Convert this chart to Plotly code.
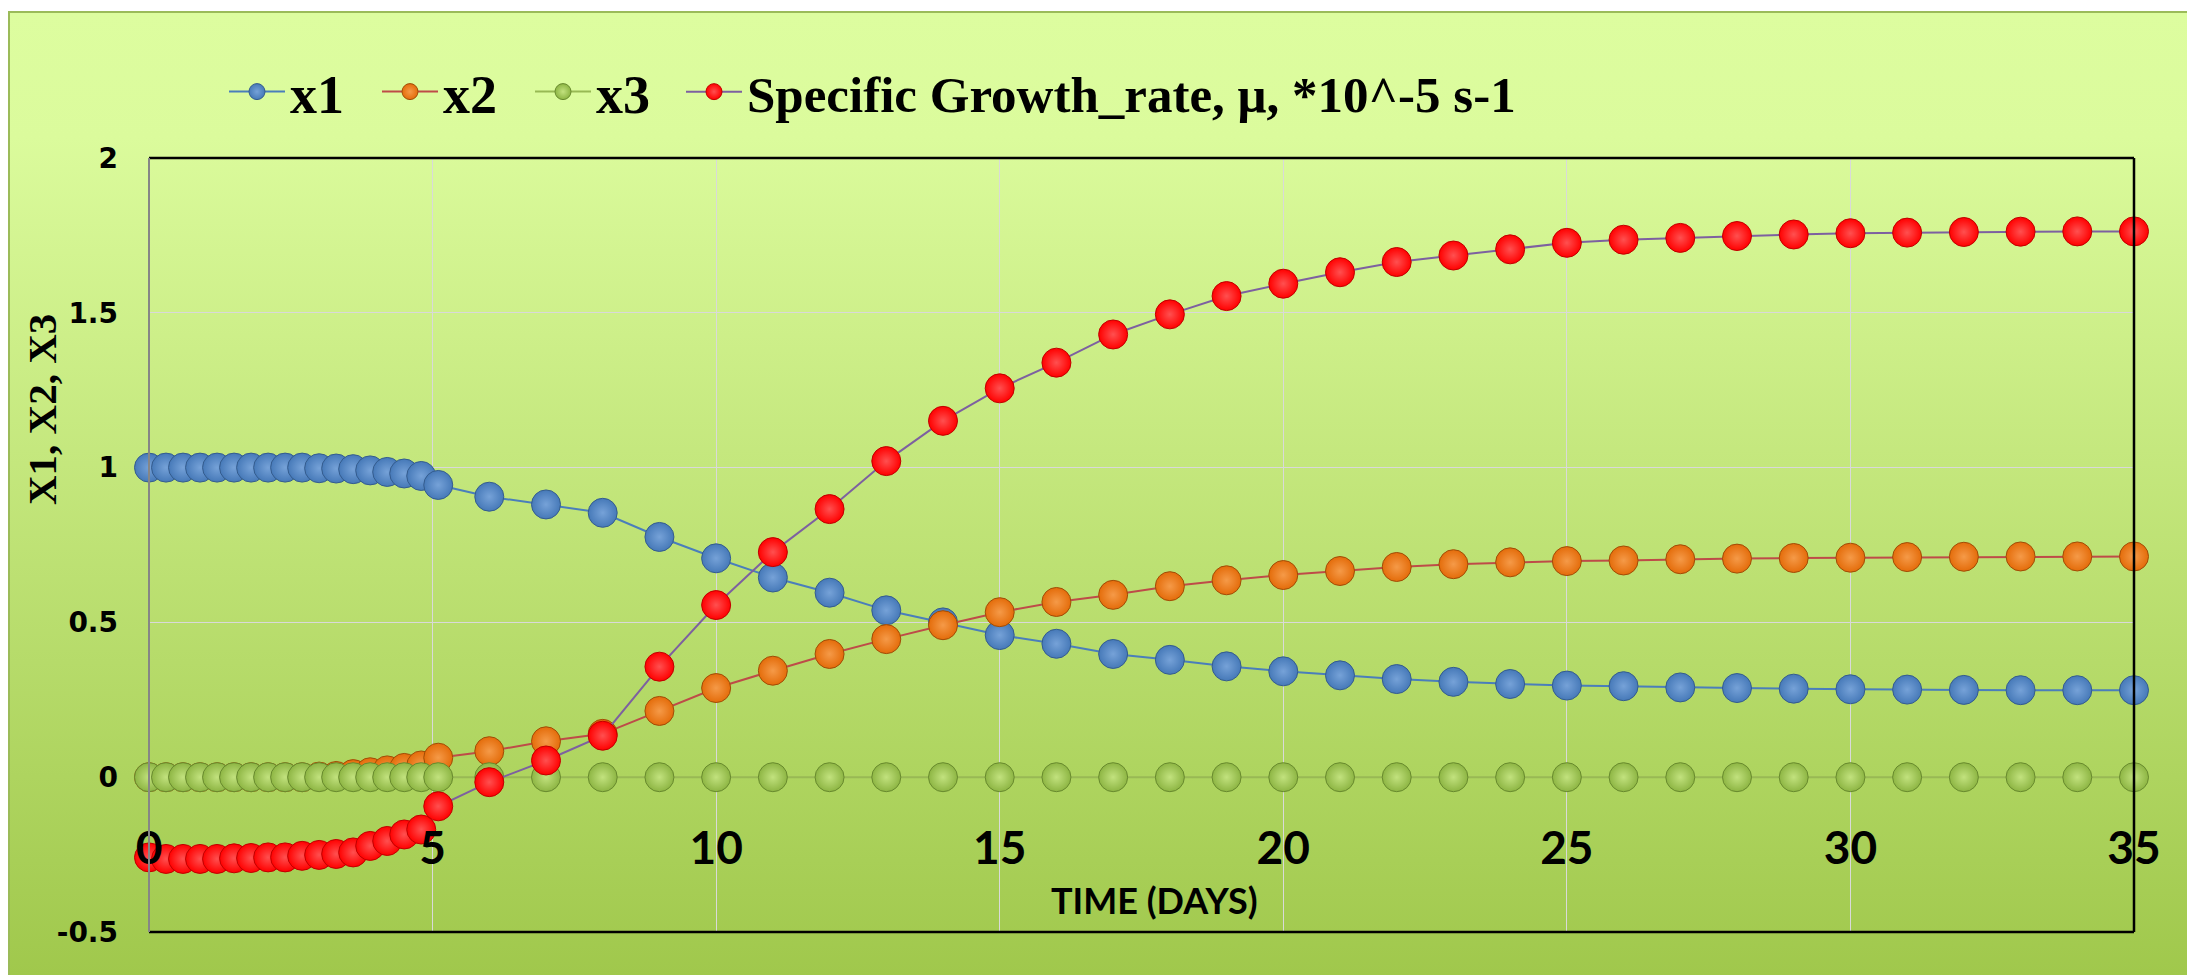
import base64
import plotly.graph_objects as go

# ---------------- data ----------------
TIME = [0.0, 0.3, 0.6, 0.9, 1.2, 1.5, 1.8, 2.1, 2.4, 2.7, 3.0, 3.3, 3.6, 3.9, 4.2, 4.5, 4.8, 5.1,
        6, 7, 8, 9, 10, 11, 12, 13, 14, 15, 16, 17, 18, 19, 20,
        21, 22, 23, 24, 25, 26, 27, 28, 29, 30, 31, 32, 33, 34, 35]

X1 = [1.0, 1.0, 1.0, 1.0, 1.0, 1.0, 1.0, 1.0, 1.0, 1.0, 0.998, 0.997, 0.995, 0.991, 0.986, 0.981, 0.973, 0.944,
      0.906, 0.881, 0.854, 0.776, 0.707, 0.645, 0.596, 0.539, 0.500, 0.459, 0.431, 0.398, 0.379, 0.358, 0.342,
      0.329, 0.317, 0.308, 0.301, 0.296, 0.294, 0.290, 0.288, 0.286, 0.284, 0.283, 0.282, 0.281, 0.281, 0.281]

X2 = [0, 0, 0, 0, 0, 0, 0, 0, 0, 0, 0.002, 0.004, 0.010, 0.016, 0.022, 0.030, 0.038, 0.063,
      0.084, 0.116, 0.140, 0.214, 0.288, 0.344, 0.398, 0.446, 0.491, 0.533, 0.566, 0.589, 0.617, 0.636, 0.653,
      0.666, 0.679, 0.688, 0.694, 0.698, 0.700, 0.704, 0.706, 0.708, 0.709, 0.711, 0.712, 0.713, 0.713, 0.713]

X3 = [0, 0, 0, 0, 0, 0, 0, 0, 0, 0, 0, 0, 0, 0, 0, 0, 0, 0,
      0, 0, 0, 0, 0, 0, 0, 0, 0, 0, 0, 0, 0, 0, 0,
      0, 0, 0, 0, 0, 0, 0, 0, 0, 0, 0, 0, 0, 0, 0]

MU = [-0.259, -0.264, -0.264, -0.264, -0.264, -0.262, -0.261, -0.259, -0.259, -0.254, -0.251, -0.248, -0.243,
      -0.222, -0.206, -0.185, -0.169, -0.094,
      -0.016, 0.054, 0.134, 0.357, 0.556, 0.727, 0.866, 1.021, 1.151, 1.256, 1.339, 1.430, 1.495, 1.554, 1.594,
      1.631, 1.664, 1.685, 1.705, 1.726, 1.736, 1.742, 1.748, 1.753, 1.757, 1.759, 1.761, 1.762, 1.763, 1.763]

SERIES_NAMES = ["x1", "x2", "x3", "Specific Growth_rate, \u03bc, *10^-5 s-1"]

X_TICKS = [0, 5, 10, 15, 20, 25, 30, 35]
X_TICK_LABELS = ["0", "5", "10", "15", "20", "25", "30", "35"]
Y_TICKS = [-0.5, 0, 0.5, 1, 1.5, 2]
Y_TICK_LABELS = ["-0.5", "0", "0.5", "1", "1.5", "2"]

X_TITLE = "TIME (DAYS)"
Y_TITLE = "X1, X2, X3"

# ---------------- styles ----------------
STYLES = [
    dict(line="#4A7EBB", fill="#4679B8", edge="#345C8E", hi="#76A2D8", legend="legend"),
    dict(line="#BE4B48", fill="#E46C0A", edge="#A04C06", hi="#F59A48", legend="legend"),
    dict(line="#98B954", fill="#8DB543", edge="#688A2E", hi="#C2E27E", legend="legend"),
    dict(line="#7D60A0", fill="#FF0000", edge="#C00000", hi="#FF5050", legend="legend2"),
]

W, H = 2187, 975
L, R, T, B = 149, 53, 158, 43
PW, PH = W - L - R, H - T - B


def px_x(px):
    return (px - L) / PW


def px_y(py):
    return (H - B - py) / PH


fig = go.Figure()
for name, ys, st in zip(SERIES_NAMES, [X1, X2, X3, MU], STYLES):
    fig.add_trace(go.Scatter(
        x=TIME, y=ys, name=name, mode="lines+markers", legend=st["legend"],
        line=dict(color=st["line"], width=2),
        marker=dict(size=29, color=st["fill"],
                    gradient=dict(type="radial", color=st["hi"]),
                    line=dict(color=st["edge"], width=1)),
        cliponaxis=False,
    ))

# gradient background as an svg image
svg = ('<svg xmlns="http://www.w3.org/2000/svg" width="100" height="100" viewBox="0 0 100 100" '
       'preserveAspectRatio="none"><defs><linearGradient id="g" x1="0" y1="0" x2="0" y2="1">'
       '<stop offset="0" stop-color="#DDFD9F"/><stop offset="0.13" stop-color="#DBFB9C"/>'
       '<stop offset="1" stop-color="#A0C84C"/></linearGradient></defs>'
       '<rect width="100" height="100" fill="url(#g)"/></svg>')
src = "data:image/svg+xml;base64," + base64.b64encode(svg.encode()).decode()

fig.add_layout_image(dict(
    source=src, xref="paper", yref="paper",
    x=px_x(9), y=px_y(12), sizex=px_x(W) - px_x(9), sizey=px_y(12) - px_y(H),
    xanchor="left", yanchor="top", sizing="stretch", layer="below",
))

shapes = [
    dict(type="rect", xref="paper", yref="paper", x0=px_x(9), x1=px_x(W + 10), y0=px_y(H + 10), y1=px_y(12),
         line=dict(color="#9BBB59", width=2), fillcolor="rgba(0,0,0,0)", layer="above"),
    dict(type="line", xref="paper", yref="paper", x0=0, x1=1, y0=1, y1=1, line=dict(color="black", width=2.5)),
    dict(type="line", xref="paper", yref="paper", x0=1, x1=1, y0=0, y1=1, line=dict(color="black", width=2.5)),
    dict(type="line", xref="paper", yref="paper", x0=0, x1=1, y0=0, y1=0, line=dict(color="black", width=2.5)),
    dict(type="line", xref="paper", yref="paper", x0=0, x1=0, y0=0, y1=1, line=dict(color="#868686", width=2)),
]

annotations = [
    dict(text=X_TITLE, xref="paper", yref="paper", x=px_x(1154), y=px_y(900),
         xanchor="center", yanchor="middle", showarrow=False,
         font=dict(family="Lato", size=36, color="black", weight="bold")),
    dict(text=Y_TITLE, xref="paper", yref="paper", x=px_x(42), y=px_y(410), textangle=-90,
         xanchor="center", yanchor="middle", showarrow=False,
         font=dict(family="Liberation Serif", size=41, color="black", weight="bold")),
]

fig.update_layout(
    width=W, height=H,
    margin=dict(l=L, r=R, t=T, b=B, pad=0),
    paper_bgcolor="white",
    plot_bgcolor="white",
    showlegend=True,
    legend=dict(orientation="h", x=px_x(224), y=px_y(92), xanchor="left", yanchor="middle",
                font=dict(family="Liberation Serif", size=54, color="black", weight="bold"),
                bgcolor="rgba(0,0,0,0)", itemwidth=56,
                entrywidth=82, entrywidthmode="pixels", traceorder="normal"),
    legend2=dict(orientation="h", x=px_x(681), y=px_y(92), xanchor="left", yanchor="middle",
                 font=dict(family="Liberation Serif", size=51, color="black", weight="bold"),
                 bgcolor="rgba(0,0,0,0)", itemwidth=56),
    xaxis=dict(range=[0, 35], tickvals=X_TICKS, ticktext=X_TICK_LABELS,
               showgrid=True, gridcolor="#D9D9D9", gridwidth=1, zeroline=False, showline=False,
               ticks="", anchor="free", position=0.148,
               tickfont=dict(family="Lato", size=46, color="black", weight="bold")),
    yaxis=dict(range=[-0.5, 2], tickvals=Y_TICKS, ticktext=Y_TICK_LABELS,
               showgrid=True, gridcolor="#D9D9D9", gridwidth=1, zeroline=False, showline=False,
               ticks="", ticklabelstandoff=30,
               tickfont=dict(family="DejaVu Sans", size=28, color="black", weight="bold")),
    shapes=shapes,
    annotations=annotations,
)

fig.write_html("out.html")
